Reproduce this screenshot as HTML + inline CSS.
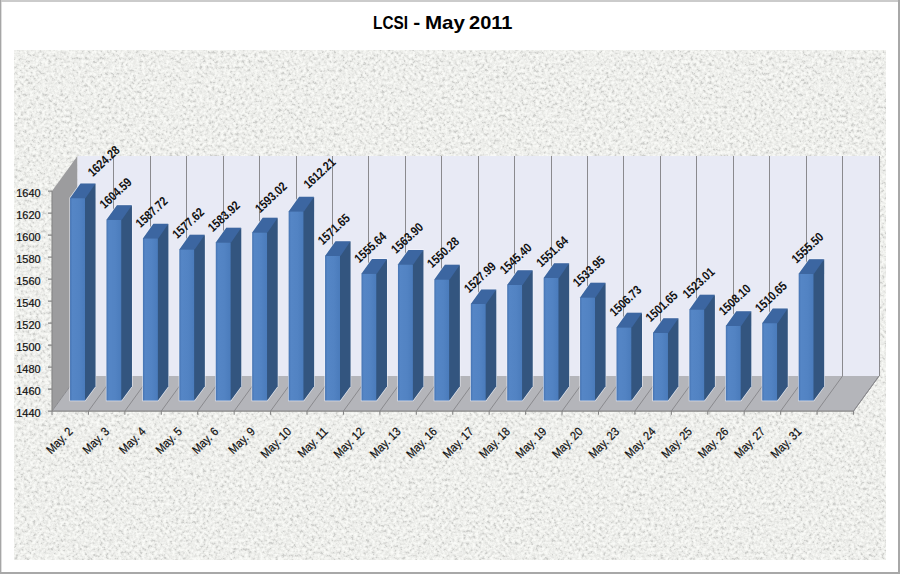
<!DOCTYPE html>
<html><head><meta charset="utf-8"><style>
html,body{margin:0;padding:0;background:#fff;}
body{width:900px;height:574px;overflow:hidden;position:relative;font-family:"Liberation Sans",sans-serif;}
svg{position:absolute;left:0;top:0;}
</style></head><body>
<svg width="900" height="574" viewBox="0 0 900 574">
<defs>
<filter id="tex" x="14" y="50" width="872" height="510" filterUnits="userSpaceOnUse" color-interpolation-filters="sRGB">
<feTurbulence type="fractalNoise" baseFrequency="0.33" numOctaves="3" seed="7" result="n"/>
<feColorMatrix in="n" type="matrix" values="2.2 0 0 0 -0.6  2.2 0 0 0 -0.6  2.2 0 0 0 -0.6  0 0 0 0 1"/>
<feComponentTransfer>
<feFuncR type="gamma" amplitude="0.17" exponent="0.45" offset="0.81"/>
<feFuncG type="gamma" amplitude="0.17" exponent="0.45" offset="0.813"/>
<feFuncB type="gamma" amplitude="0.17" exponent="0.45" offset="0.80"/>
</feComponentTransfer>
</filter>
<linearGradient id="front" x1="0" y1="0" x2="1" y2="0">
<stop offset="0" stop-color="#4674B3"/><stop offset="0.15" stop-color="#5586C6"/><stop offset="0.6" stop-color="#5283C3"/><stop offset="1" stop-color="#4A7BBB"/>
</linearGradient>
</defs>
<rect x="0" y="0" width="900" height="574" fill="#ffffff"/>

<rect x="0" y="0" width="900" height="2" fill="#cbcbcb"/><rect x="0" y="0" width="1" height="574" fill="#a6a6a6"/><rect x="1" y="2" width="1" height="570" fill="#dedede"/>
<rect x="898" y="0" width="2" height="574" fill="#a8a8a8"/><rect x="0" y="572" width="900" height="2" fill="#a8a8a8"/>
<rect x="14" y="50" width="872" height="510" fill="#e9e9e7" filter="url(#tex)"/>
<g font-family="Liberation Sans" font-weight="bold" font-size="19" fill="#000"><text x="373" y="28.7" textLength="35" lengthAdjust="spacingAndGlyphs">LCSI</text><text x="413.2" y="28.7" textLength="7" lengthAdjust="spacingAndGlyphs">-</text><text x="425" y="28.7" textLength="40" lengthAdjust="spacingAndGlyphs">May</text><text x="469" y="28.7" textLength="43.5" lengthAdjust="spacingAndGlyphs">2011</text></g>
<polygon points="52.00,191.10 77.50,156.00 77.50,376.00 52.00,411.10" fill="#9c9c9e"/>
<polygon points="77.50,156.00 879.00,156.00 879.00,376.00 77.50,376.00" fill="#e8eaf5"/>
<polygon points="52.00,411.10 853.50,411.10 879.00,376.00 77.50,376.00" fill="#b4b5ba"/>
<path d="M113.50 156.00V376.00 M150.50 156.00V376.00 M186.50 156.00V376.00 M223.50 156.00V376.00 M259.50 156.00V376.00 M296.50 156.00V376.00 M332.50 156.00V376.00 M368.50 156.00V376.00 M405.50 156.00V376.00 M441.50 156.00V376.00 M478.50 156.00V376.00 M514.50 156.00V376.00 M551.50 156.00V376.00 M587.50 156.00V376.00 M623.50 156.00V376.00 M660.50 156.00V376.00 M696.50 156.00V376.00 M733.50 156.00V376.00 M769.50 156.00V376.00 M806.50 156.00V376.00 M842.50 156.00V376.00 M879.50 156.00V376.00 M88.43 411.10L113.93 376.00 M124.86 411.10L150.36 376.00 M161.30 411.10L186.80 376.00 M197.73 411.10L223.23 376.00 M234.16 411.10L259.66 376.00 M270.59 411.10L296.09 376.00 M307.02 411.10L332.52 376.00 M343.45 411.10L368.95 376.00 M379.89 411.10L405.39 376.00 M416.32 411.10L441.82 376.00 M452.75 411.10L478.25 376.00 M489.18 411.10L514.68 376.00 M525.61 411.10L551.11 376.00 M562.05 411.10L587.55 376.00 M598.48 411.10L623.98 376.00 M634.91 411.10L660.41 376.00 M671.34 411.10L696.84 376.00 M707.77 411.10L733.27 376.00 M744.20 411.10L769.70 376.00 M780.64 411.10L806.14 376.00 M817.07 411.10L842.57 376.00 M853.50 411.10L879.00 376.00" stroke="#8a8a8e" stroke-width="1" fill="none"/>
<path d="M52.00 411.10L77.50 376.00 M853.50 411.10L879.00 376.00" stroke="#8a8a8e" stroke-width="1" fill="none"/>
<path d="M52.00 191.10V411.10 M52.00 411.10H853.50 M48.00 411.10H52.00 M48.00 389.10H52.00 M48.00 367.10H52.00 M48.00 345.10H52.00 M48.00 323.10H52.00 M48.00 301.10H52.00 M48.00 279.10H52.00 M48.00 257.10H52.00 M48.00 235.10H52.00 M48.00 213.10H52.00 M48.00 191.10H52.00 M52.00 411.10V414.70 M88.43 411.10V414.70 M124.86 411.10V414.70 M161.30 411.10V414.70 M197.73 411.10V414.70 M234.16 411.10V414.70 M270.59 411.10V414.70 M307.02 411.10V414.70 M343.45 411.10V414.70 M379.89 411.10V414.70 M416.32 411.10V414.70 M452.75 411.10V414.70 M489.18 411.10V414.70 M525.61 411.10V414.70 M562.05 411.10V414.70 M598.48 411.10V414.70 M634.91 411.10V414.70 M671.34 411.10V414.70 M707.77 411.10V414.70 M744.20 411.10V414.70 M780.64 411.10V414.70 M817.07 411.10V414.70 M853.50 411.10V414.70" stroke="#868686" stroke-width="1.1" fill="none"/>
<text x="16.2" y="416.70" textLength="24.4" lengthAdjust="spacingAndGlyphs" font-size="10.5" fill="#111" stroke="#111" stroke-width="0.2">1440</text>
<text x="16.2" y="394.70" textLength="24.4" lengthAdjust="spacingAndGlyphs" font-size="10.5" fill="#111" stroke="#111" stroke-width="0.2">1460</text>
<text x="16.2" y="372.70" textLength="24.4" lengthAdjust="spacingAndGlyphs" font-size="10.5" fill="#111" stroke="#111" stroke-width="0.2">1480</text>
<text x="16.2" y="350.70" textLength="24.4" lengthAdjust="spacingAndGlyphs" font-size="10.5" fill="#111" stroke="#111" stroke-width="0.2">1500</text>
<text x="16.2" y="328.70" textLength="24.4" lengthAdjust="spacingAndGlyphs" font-size="10.5" fill="#111" stroke="#111" stroke-width="0.2">1520</text>
<text x="16.2" y="306.70" textLength="24.4" lengthAdjust="spacingAndGlyphs" font-size="10.5" fill="#111" stroke="#111" stroke-width="0.2">1540</text>
<text x="16.2" y="284.70" textLength="24.4" lengthAdjust="spacingAndGlyphs" font-size="10.5" fill="#111" stroke="#111" stroke-width="0.2">1560</text>
<text x="16.2" y="262.70" textLength="24.4" lengthAdjust="spacingAndGlyphs" font-size="10.5" fill="#111" stroke="#111" stroke-width="0.2">1580</text>
<text x="16.2" y="240.70" textLength="24.4" lengthAdjust="spacingAndGlyphs" font-size="10.5" fill="#111" stroke="#111" stroke-width="0.2">1600</text>
<text x="16.2" y="218.70" textLength="24.4" lengthAdjust="spacingAndGlyphs" font-size="10.5" fill="#111" stroke="#111" stroke-width="0.2">1620</text>
<text x="16.2" y="196.70" textLength="24.4" lengthAdjust="spacingAndGlyphs" font-size="10.5" fill="#111" stroke="#111" stroke-width="0.2">1640</text>
<polygon points="70.07,400.57 70.07,197.86 80.52,183.47 95.52,183.47 95.52,386.18 85.07,400.57" fill="#33557f" stroke="#f2f5fd" stroke-width="1.3" stroke-opacity="0.8"/>
<rect x="70.07" y="197.86" width="15.00" height="202.71" fill="url(#front)"/>
<polygon points="85.07,197.86 95.52,183.47 95.52,386.18 85.07,400.57" fill="#33557f"/>
<polygon points="70.07,198.16 80.52,183.47 95.52,183.47 85.37,198.16" fill="#3c66a1"/>
<text transform="translate(92.70 177.20) rotate(-43) scale(0.84 1)" font-size="12.6" font-weight="bold" fill="#111">1624.28</text>
<text transform="translate(73.52 432.30) rotate(-45) scale(0.9 1)" text-anchor="end" font-size="12" fill="#111" stroke="#111" stroke-width="0.22">May. 2</text>
<polygon points="106.50,400.57 106.50,219.52 116.95,205.13 131.95,205.13 131.95,386.18 121.50,400.57" fill="#33557f" stroke="#f2f5fd" stroke-width="1.3" stroke-opacity="0.8"/>
<rect x="106.50" y="219.52" width="15.00" height="181.05" fill="url(#front)"/>
<polygon points="121.50,219.52 131.95,205.13 131.95,386.18 121.50,400.57" fill="#33557f"/>
<polygon points="106.50,219.82 116.95,205.13 131.95,205.13 121.80,219.82" fill="#3c66a1"/>
<text transform="translate(104.60 209.30) rotate(-43) scale(0.84 1)" font-size="12.6" font-weight="bold" fill="#111">1604.59</text>
<text transform="translate(109.95 432.30) rotate(-45) scale(0.9 1)" text-anchor="end" font-size="12" fill="#111" stroke="#111" stroke-width="0.22">May. 3</text>
<polygon points="142.93,400.57 142.93,238.08 153.38,223.69 168.38,223.69 168.38,386.18 157.93,400.57" fill="#33557f" stroke="#f2f5fd" stroke-width="1.3" stroke-opacity="0.8"/>
<rect x="142.93" y="238.08" width="15.00" height="162.49" fill="url(#front)"/>
<polygon points="157.93,238.08 168.38,223.69 168.38,386.18 157.93,400.57" fill="#33557f"/>
<polygon points="142.93,238.38 153.38,223.69 168.38,223.69 158.23,238.38" fill="#3c66a1"/>
<text transform="translate(140.60 228.20) rotate(-43) scale(0.84 1)" font-size="12.6" font-weight="bold" fill="#111">1587.72</text>
<text transform="translate(146.38 432.30) rotate(-45) scale(0.9 1)" text-anchor="end" font-size="12" fill="#111" stroke="#111" stroke-width="0.22">May. 4</text>
<polygon points="179.36,400.57 179.36,249.19 189.82,234.80 204.82,234.80 204.82,386.18 194.36,400.57" fill="#33557f" stroke="#f2f5fd" stroke-width="1.3" stroke-opacity="0.8"/>
<rect x="179.36" y="249.19" width="15.00" height="151.38" fill="url(#front)"/>
<polygon points="194.36,249.19 204.82,234.80 204.82,386.18 194.36,400.57" fill="#33557f"/>
<polygon points="179.36,249.49 189.82,234.80 204.82,234.80 194.66,249.49" fill="#3c66a1"/>
<text transform="translate(177.20 239.30) rotate(-43) scale(0.84 1)" font-size="12.6" font-weight="bold" fill="#111">1577.62</text>
<text transform="translate(182.81 432.30) rotate(-45) scale(0.9 1)" text-anchor="end" font-size="12" fill="#111" stroke="#111" stroke-width="0.22">May. 5</text>
<polygon points="215.79,400.57 215.79,242.26 226.25,227.87 241.25,227.87 241.25,386.18 230.79,400.57" fill="#33557f" stroke="#f2f5fd" stroke-width="1.3" stroke-opacity="0.8"/>
<rect x="215.79" y="242.26" width="15.00" height="158.31" fill="url(#front)"/>
<polygon points="230.79,242.26 241.25,227.87 241.25,386.18 230.79,400.57" fill="#33557f"/>
<polygon points="215.79,242.56 226.25,227.87 241.25,227.87 231.09,242.56" fill="#3c66a1"/>
<text transform="translate(212.80 232.60) rotate(-43) scale(0.84 1)" font-size="12.6" font-weight="bold" fill="#111">1583.92</text>
<text transform="translate(219.24 432.30) rotate(-45) scale(0.9 1)" text-anchor="end" font-size="12" fill="#111" stroke="#111" stroke-width="0.22">May. 6</text>
<polygon points="252.22,400.57 252.22,232.25 262.68,217.86 277.68,217.86 277.68,386.18 267.23,400.57" fill="#33557f" stroke="#f2f5fd" stroke-width="1.3" stroke-opacity="0.8"/>
<rect x="252.22" y="232.25" width="15.00" height="168.32" fill="url(#front)"/>
<polygon points="267.23,232.25 277.68,217.86 277.68,386.18 267.23,400.57" fill="#33557f"/>
<polygon points="252.22,232.55 262.68,217.86 277.68,217.86 267.53,232.55" fill="#3c66a1"/>
<text transform="translate(259.90 213.60) rotate(-43) scale(0.84 1)" font-size="12.6" font-weight="bold" fill="#111">1593.02</text>
<text transform="translate(255.68 432.30) rotate(-45) scale(0.9 1)" text-anchor="end" font-size="12" fill="#111" stroke="#111" stroke-width="0.22">May. 9</text>
<polygon points="288.66,400.57 288.66,211.14 299.11,196.75 314.11,196.75 314.11,386.18 303.66,400.57" fill="#33557f" stroke="#f2f5fd" stroke-width="1.3" stroke-opacity="0.8"/>
<rect x="288.66" y="211.14" width="15.00" height="189.43" fill="url(#front)"/>
<polygon points="303.66,211.14 314.11,196.75 314.11,386.18 303.66,400.57" fill="#33557f"/>
<polygon points="288.66,211.44 299.11,196.75 314.11,196.75 303.96,211.44" fill="#3c66a1"/>
<text transform="translate(308.50 189.30) rotate(-43) scale(0.84 1)" font-size="12.6" font-weight="bold" fill="#111">1612.21</text>
<text transform="translate(292.11 432.30) rotate(-45) scale(0.9 1)" text-anchor="end" font-size="12" fill="#111" stroke="#111" stroke-width="0.22">May. 10</text>
<polygon points="325.09,400.57 325.09,255.75 335.54,241.36 350.54,241.36 350.54,386.18 340.09,400.57" fill="#33557f" stroke="#f2f5fd" stroke-width="1.3" stroke-opacity="0.8"/>
<rect x="325.09" y="255.75" width="15.00" height="144.82" fill="url(#front)"/>
<polygon points="340.09,255.75 350.54,241.36 350.54,386.18 340.09,400.57" fill="#33557f"/>
<polygon points="325.09,256.05 335.54,241.36 350.54,241.36 340.39,256.05" fill="#3c66a1"/>
<text transform="translate(322.80 245.40) rotate(-43) scale(0.84 1)" font-size="12.6" font-weight="bold" fill="#111">1571.65</text>
<text transform="translate(328.54 432.30) rotate(-45) scale(0.9 1)" text-anchor="end" font-size="12" fill="#111" stroke="#111" stroke-width="0.22">May. 11</text>
<polygon points="361.52,400.57 361.52,273.37 371.98,258.97 386.98,258.97 386.98,386.18 376.52,400.57" fill="#33557f" stroke="#f2f5fd" stroke-width="1.3" stroke-opacity="0.8"/>
<rect x="361.52" y="273.37" width="15.00" height="127.20" fill="url(#front)"/>
<polygon points="376.52,273.37 386.98,258.97 386.98,386.18 376.52,400.57" fill="#33557f"/>
<polygon points="361.52,273.67 371.98,258.97 386.98,258.97 376.82,273.67" fill="#3c66a1"/>
<text transform="translate(359.30 263.60) rotate(-43) scale(0.84 1)" font-size="12.6" font-weight="bold" fill="#111">1555.64</text>
<text transform="translate(364.97 432.30) rotate(-45) scale(0.9 1)" text-anchor="end" font-size="12" fill="#111" stroke="#111" stroke-width="0.22">May. 12</text>
<polygon points="397.95,400.57 397.95,264.28 408.41,249.89 423.41,249.89 423.41,386.18 412.95,400.57" fill="#33557f" stroke="#f2f5fd" stroke-width="1.3" stroke-opacity="0.8"/>
<rect x="397.95" y="264.28" width="15.00" height="136.29" fill="url(#front)"/>
<polygon points="412.95,264.28 423.41,249.89 423.41,386.18 412.95,400.57" fill="#33557f"/>
<polygon points="397.95,264.58 408.41,249.89 423.41,249.89 413.25,264.58" fill="#3c66a1"/>
<text transform="translate(396.10 254.20) rotate(-43) scale(0.84 1)" font-size="12.6" font-weight="bold" fill="#111">1563.90</text>
<text transform="translate(401.40 432.30) rotate(-45) scale(0.9 1)" text-anchor="end" font-size="12" fill="#111" stroke="#111" stroke-width="0.22">May. 13</text>
<polygon points="434.38,400.57 434.38,279.26 444.84,264.87 459.84,264.87 459.84,386.18 449.38,400.57" fill="#33557f" stroke="#f2f5fd" stroke-width="1.3" stroke-opacity="0.8"/>
<rect x="434.38" y="279.26" width="15.00" height="121.31" fill="url(#front)"/>
<polygon points="449.38,279.26 459.84,264.87 459.84,386.18 449.38,400.57" fill="#33557f"/>
<polygon points="434.38,279.56 444.84,264.87 459.84,264.87 449.68,279.56" fill="#3c66a1"/>
<text transform="translate(432.10 268.50) rotate(-43) scale(0.84 1)" font-size="12.6" font-weight="bold" fill="#111">1550.28</text>
<text transform="translate(437.83 432.30) rotate(-45) scale(0.9 1)" text-anchor="end" font-size="12" fill="#111" stroke="#111" stroke-width="0.22">May. 16</text>
<polygon points="470.82,400.57 470.82,303.78 481.27,289.39 496.27,289.39 496.27,386.18 485.82,400.57" fill="#33557f" stroke="#f2f5fd" stroke-width="1.3" stroke-opacity="0.8"/>
<rect x="470.82" y="303.78" width="15.00" height="96.79" fill="url(#front)"/>
<polygon points="485.82,303.78 496.27,289.39 496.27,386.18 485.82,400.57" fill="#33557f"/>
<polygon points="470.82,304.08 481.27,289.39 496.27,289.39 486.12,304.08" fill="#3c66a1"/>
<text transform="translate(468.90 293.60) rotate(-43) scale(0.84 1)" font-size="12.6" font-weight="bold" fill="#111">1527.99</text>
<text transform="translate(474.27 432.30) rotate(-45) scale(0.9 1)" text-anchor="end" font-size="12" fill="#111" stroke="#111" stroke-width="0.22">May. 17</text>
<polygon points="507.25,400.57 507.25,284.63 517.70,270.24 532.70,270.24 532.70,386.18 522.25,400.57" fill="#33557f" stroke="#f2f5fd" stroke-width="1.3" stroke-opacity="0.8"/>
<rect x="507.25" y="284.63" width="15.00" height="115.94" fill="url(#front)"/>
<polygon points="522.25,284.63 532.70,270.24 532.70,386.18 522.25,400.57" fill="#33557f"/>
<polygon points="507.25,284.93 517.70,270.24 532.70,270.24 522.55,284.93" fill="#3c66a1"/>
<text transform="translate(504.70 274.80) rotate(-43) scale(0.84 1)" font-size="12.6" font-weight="bold" fill="#111">1545.40</text>
<text transform="translate(510.70 432.30) rotate(-45) scale(0.9 1)" text-anchor="end" font-size="12" fill="#111" stroke="#111" stroke-width="0.22">May. 18</text>
<polygon points="543.68,400.57 543.68,277.77 554.13,263.37 569.13,263.37 569.13,386.18 558.68,400.57" fill="#33557f" stroke="#f2f5fd" stroke-width="1.3" stroke-opacity="0.8"/>
<rect x="543.68" y="277.77" width="15.00" height="122.80" fill="url(#front)"/>
<polygon points="558.68,277.77 569.13,263.37 569.13,386.18 558.68,400.57" fill="#33557f"/>
<polygon points="543.68,278.07 554.13,263.37 569.13,263.37 558.98,278.07" fill="#3c66a1"/>
<text transform="translate(541.20 267.70) rotate(-43) scale(0.84 1)" font-size="12.6" font-weight="bold" fill="#111">1551.64</text>
<text transform="translate(547.13 432.30) rotate(-45) scale(0.9 1)" text-anchor="end" font-size="12" fill="#111" stroke="#111" stroke-width="0.22">May. 19</text>
<polygon points="580.11,400.57 580.11,297.23 590.57,282.83 605.57,282.83 605.57,386.18 595.11,400.57" fill="#33557f" stroke="#f2f5fd" stroke-width="1.3" stroke-opacity="0.8"/>
<rect x="580.11" y="297.23" width="15.00" height="103.35" fill="url(#front)"/>
<polygon points="595.11,297.23 605.57,282.83 605.57,386.18 595.11,400.57" fill="#33557f"/>
<polygon points="580.11,297.53 590.57,282.83 605.57,282.83 595.41,297.53" fill="#3c66a1"/>
<text transform="translate(577.80 287.40) rotate(-43) scale(0.84 1)" font-size="12.6" font-weight="bold" fill="#111">1533.95</text>
<text transform="translate(583.56 432.30) rotate(-45) scale(0.9 1)" text-anchor="end" font-size="12" fill="#111" stroke="#111" stroke-width="0.22">May. 20</text>
<polygon points="616.54,400.57 616.54,327.17 627.00,312.78 642.00,312.78 642.00,386.18 631.54,400.57" fill="#33557f" stroke="#f2f5fd" stroke-width="1.3" stroke-opacity="0.8"/>
<rect x="616.54" y="327.17" width="15.00" height="73.40" fill="url(#front)"/>
<polygon points="631.54,327.17 642.00,312.78 642.00,386.18 631.54,400.57" fill="#33557f"/>
<polygon points="616.54,327.47 627.00,312.78 642.00,312.78 631.84,327.47" fill="#3c66a1"/>
<text transform="translate(614.40 317.10) rotate(-43) scale(0.84 1)" font-size="12.6" font-weight="bold" fill="#111">1506.73</text>
<text transform="translate(619.99 432.30) rotate(-45) scale(0.9 1)" text-anchor="end" font-size="12" fill="#111" stroke="#111" stroke-width="0.22">May. 23</text>
<polygon points="652.98,400.57 652.98,332.75 663.43,318.36 678.43,318.36 678.43,386.18 667.98,400.57" fill="#33557f" stroke="#f2f5fd" stroke-width="1.3" stroke-opacity="0.8"/>
<rect x="652.98" y="332.75" width="15.00" height="67.82" fill="url(#front)"/>
<polygon points="667.98,332.75 678.43,318.36 678.43,386.18 667.98,400.57" fill="#33557f"/>
<polygon points="652.98,333.05 663.43,318.36 678.43,318.36 668.27,333.05" fill="#3c66a1"/>
<text transform="translate(650.60 322.60) rotate(-43) scale(0.84 1)" font-size="12.6" font-weight="bold" fill="#111">1501.65</text>
<text transform="translate(656.42 432.30) rotate(-45) scale(0.9 1)" text-anchor="end" font-size="12" fill="#111" stroke="#111" stroke-width="0.22">May. 24</text>
<polygon points="689.41,400.57 689.41,309.26 699.86,294.87 714.86,294.87 714.86,386.18 704.41,400.57" fill="#33557f" stroke="#f2f5fd" stroke-width="1.3" stroke-opacity="0.8"/>
<rect x="689.41" y="309.26" width="15.00" height="91.31" fill="url(#front)"/>
<polygon points="704.41,309.26 714.86,294.87 714.86,386.18 704.41,400.57" fill="#33557f"/>
<polygon points="689.41,309.56 699.86,294.87 714.86,294.87 704.71,309.56" fill="#3c66a1"/>
<text transform="translate(687.50 299.10) rotate(-43) scale(0.84 1)" font-size="12.6" font-weight="bold" fill="#111">1523.01</text>
<text transform="translate(692.86 432.30) rotate(-45) scale(0.9 1)" text-anchor="end" font-size="12" fill="#111" stroke="#111" stroke-width="0.22">May. 25</text>
<polygon points="725.84,400.57 725.84,325.66 736.29,311.27 751.29,311.27 751.29,386.18 740.84,400.57" fill="#33557f" stroke="#f2f5fd" stroke-width="1.3" stroke-opacity="0.8"/>
<rect x="725.84" y="325.66" width="15.00" height="74.91" fill="url(#front)"/>
<polygon points="740.84,325.66 751.29,311.27 751.29,386.18 740.84,400.57" fill="#33557f"/>
<polygon points="725.84,325.96 736.29,311.27 751.29,311.27 741.14,325.96" fill="#3c66a1"/>
<text transform="translate(723.70 315.90) rotate(-43) scale(0.84 1)" font-size="12.6" font-weight="bold" fill="#111">1508.10</text>
<text transform="translate(729.29 432.30) rotate(-45) scale(0.9 1)" text-anchor="end" font-size="12" fill="#111" stroke="#111" stroke-width="0.22">May. 26</text>
<polygon points="762.27,400.57 762.27,322.85 772.73,308.46 787.73,308.46 787.73,386.18 777.27,400.57" fill="#33557f" stroke="#f2f5fd" stroke-width="1.3" stroke-opacity="0.8"/>
<rect x="762.27" y="322.85" width="15.00" height="77.72" fill="url(#front)"/>
<polygon points="777.27,322.85 787.73,308.46 787.73,386.18 777.27,400.57" fill="#33557f"/>
<polygon points="762.27,323.15 772.73,308.46 787.73,308.46 777.57,323.15" fill="#3c66a1"/>
<text transform="translate(759.90 313.00) rotate(-43) scale(0.84 1)" font-size="12.6" font-weight="bold" fill="#111">1510.65</text>
<text transform="translate(765.72 432.30) rotate(-45) scale(0.9 1)" text-anchor="end" font-size="12" fill="#111" stroke="#111" stroke-width="0.22">May. 27</text>
<polygon points="798.70,400.57 798.70,273.52 809.16,259.13 824.16,259.13 824.16,386.18 813.70,400.57" fill="#33557f" stroke="#f2f5fd" stroke-width="1.3" stroke-opacity="0.8"/>
<rect x="798.70" y="273.52" width="15.00" height="127.05" fill="url(#front)"/>
<polygon points="813.70,273.52 824.16,259.13 824.16,386.18 813.70,400.57" fill="#33557f"/>
<polygon points="798.70,273.82 809.16,259.13 824.16,259.13 814.00,273.82" fill="#3c66a1"/>
<text transform="translate(796.40 264.00) rotate(-43) scale(0.84 1)" font-size="12.6" font-weight="bold" fill="#111">1555.50</text>
<text transform="translate(802.15 432.30) rotate(-45) scale(0.9 1)" text-anchor="end" font-size="12" fill="#111" stroke="#111" stroke-width="0.22">May. 31</text>
</svg></body></html>
